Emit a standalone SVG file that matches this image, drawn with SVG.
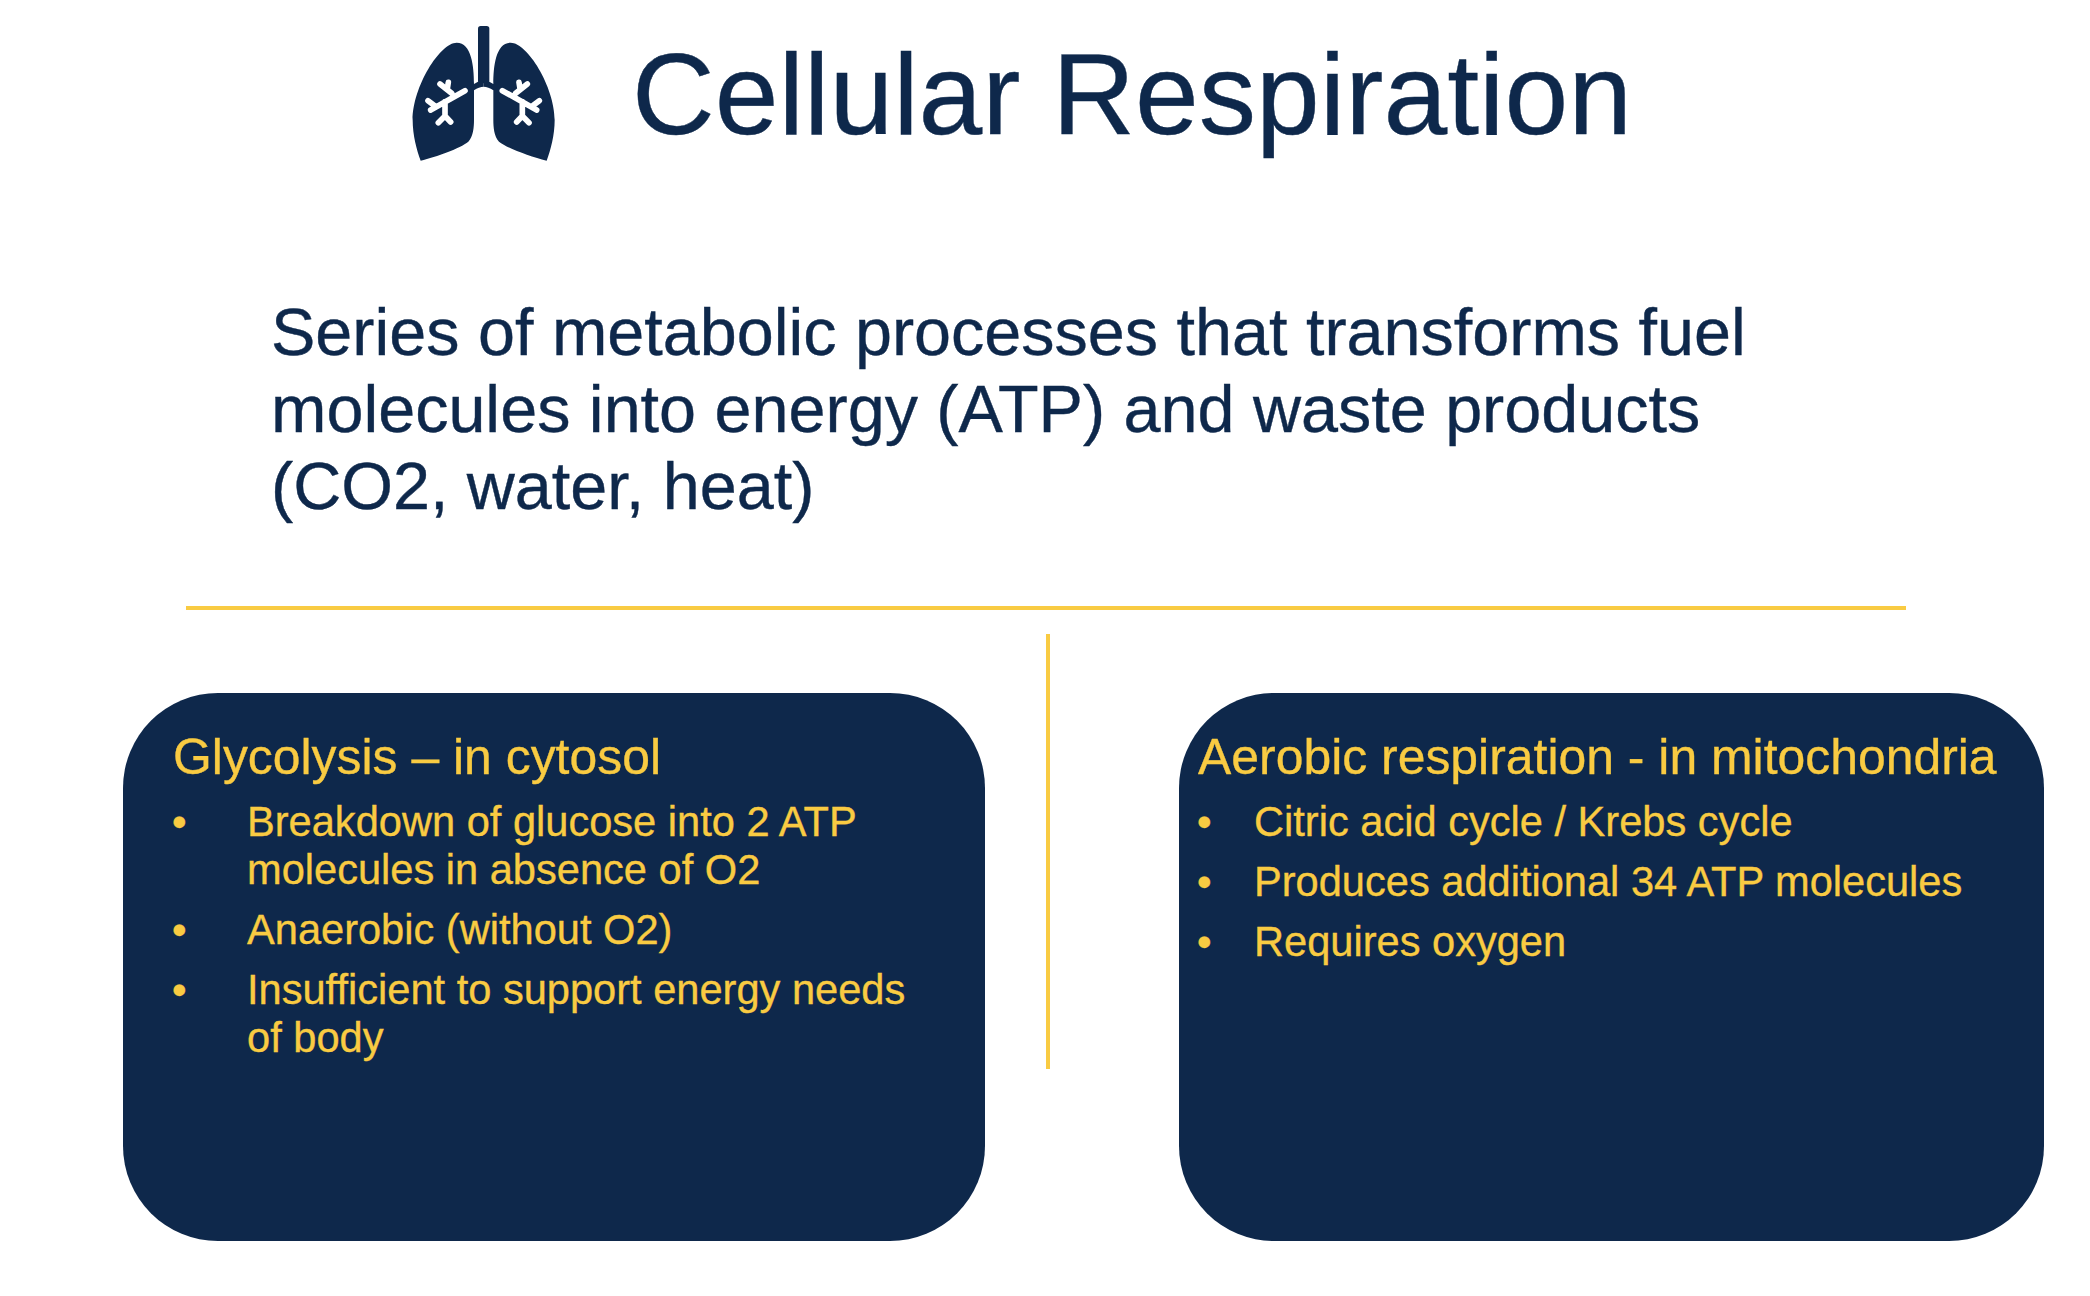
<svg xmlns="http://www.w3.org/2000/svg" width="2090" height="1296" viewBox="0 0 2090 1296">
<style>
text{font-family:"Liberation Sans",Arial,sans-serif}
.navy{fill:#0e284b}
.t{fill:#0e284b;stroke:#0e284b;stroke-width:.4px}
.y{fill:#f9cb42;stroke:#f9cb42;stroke-width:.35px}
.h{font-size:49.9px}
.b{font-size:41.6px}
.rule{stroke:#f9cb42;stroke-width:4;fill:none}
.tree{stroke:#fff;stroke-width:17;stroke-linecap:round;stroke-linejoin:round;fill:none}
</style>
<defs>
<g id="half">
<path class="navy" d="M252 222C252 170 245 98 200 98C150 98 68 230 68 330C68 375 80 420 92 452C140 440 210 415 235 395C250 380 252 350 252 330V241C262 234 272 230 281 230V215H264L252 222Z"/>
<path class="tree" d="M225 242L122 300M114 272L135 288M150 222L185 250M175 217L172 236M165 275V315M145 338L165 318L182 336"/>
</g>
</defs>
<g id="icon" transform="translate(390 10) scale(.33333)">
<rect class="navy" x="264" y="48" width="34" height="172" rx="8"/>
<use href="#half"/>
<use href="#half" transform="translate(562 0) scale(-1 1)"/>
</g>
<g id="title"><text class="t" x="632" y="134" font-size="114.6">Cellular Respiration</text></g>
<g id="intro" font-size="66.5">
<text class="t" x="271" y="355">Series of metabolic processes that transforms fuel</text>
<text class="t" x="271" y="432">molecules into energy (ATP) and waste products</text>
<text class="t" x="271" y="509">(CO2, water, heat)</text>
</g>
<g id="connectors">
<line class="rule" x1="186" y1="608" x2="1906" y2="608"/>
<line class="rule" x1="1048" y1="634" x2="1048" y2="1069"/>
</g>
<g id="glycolysis">
<rect class="navy" x="123" y="693" width="862" height="548" rx="95"/>
<text class="y h" x="173" y="774">Glycolysis – in cytosol</text>
<text class="y b" x="172" y="836">•</text>
<text class="y b" x="247" y="836">Breakdown of glucose into 2 ATP</text>
<text class="y b" x="247" y="884">molecules in absence of O2</text>
<text class="y b" x="172" y="944">•</text>
<text class="y b" x="247" y="944">Anaerobic (without O2)</text>
<text class="y b" x="172" y="1004">•</text>
<text class="y b" x="247" y="1004">Insufficient to support energy needs</text>
<text class="y b" x="247" y="1052">of body</text>
</g>
<g id="aerobic">
<rect class="navy" x="1179" y="693" width="865" height="548" rx="95"/>
<text class="y h" x="1198" y="774">Aerobic respiration - in mitochondria</text>
<text class="y b" x="1197" y="836">•</text>
<text class="y b" x="1254" y="836">Citric acid cycle / Krebs cycle</text>
<text class="y b" x="1197" y="896">•</text>
<text class="y b" x="1254" y="896">Produces additional 34 ATP molecules</text>
<text class="y b" x="1197" y="956">•</text>
<text class="y b" x="1254" y="956">Requires oxygen</text>
</g>
</svg>
